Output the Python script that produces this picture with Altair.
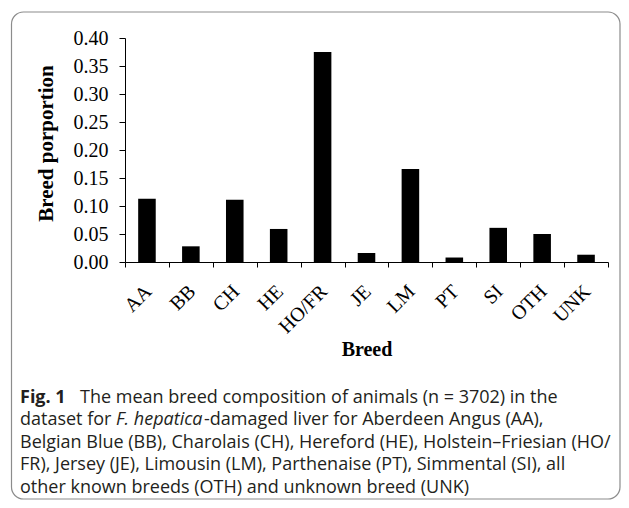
import altair as alt
import pandas as pd

breeds = ["AA", "BB", "CH", "HE", "HO/FR", "JE", "LM", "PT", "SI", "OTH", "UNK"]
proportions = [0.113, 0.028, 0.111, 0.059, 0.375, 0.016, 0.166, 0.008, 0.061, 0.050, 0.013]
y_ticks = [0.0, 0.05, 0.10, 0.15, 0.20, 0.25, 0.30, 0.35, 0.40]

caption_lines = [
    [("Fig. 1", "bold", "normal", 0), ("The mean breed composition of animals (n = 3702) in the", "normal", "normal", 60)],
    [("dataset for ", "normal", "normal", 0), ("F. hepatica", "normal", "italic", 96), ("-damaged liver for Aberdeen Angus (AA),", "normal", "normal", 184)],
    [("Belgian Blue (BB), Charolais (CH), Hereford (HE), Holstein\u2013Friesian (HO/", "normal", "normal", 0)],
    [("FR), Jersey (JE), Limousin (LM), Parthenaise (PT), Simmental (SI), all", "normal", "normal", 0)],
    [("other known breeds (OTH) and unknown breed (UNK)", "normal", "normal", 0)],
]
line_y = [398, 420, 443, 465, 488]

df = pd.DataFrame({"breed": breeds, "value": proportions})

W, H = 483, 224
PL, PT = 117, 30
TOTAL_W, TOTAL_H = 613, 492

serif = "Liberation Serif"
sans = "Open Sans"

bars = alt.Chart(df).mark_bar(color="black", width=alt.RelativeBandSize(0.4)).encode(
    x=alt.X("breed:N", sort=breeds,
            scale=alt.Scale(paddingInner=0, paddingOuter=0),
            axis=alt.Axis(title="Breed", labelAngle=315, labelAlign="right", labelBaseline="middle",
                          labelFont=serif, labelFontSize=20, labelColor="black", labelPadding=21,
                          labelOffset=1,
                          tickBand="extent", tickColor="black", tickSize=5, domainColor="black",
                          titleFont=serif, titleFontSize=20, titleFontWeight="bold", titleColor="black",
                          titleY=87, titleBaseline="middle", grid=False)),
    y=alt.Y("value:Q", scale=alt.Scale(domain=[0, 0.4], nice=False),
            axis=alt.Axis(title="Breed porportion", values=y_ticks, format=".2f",
                          labelFont=serif, labelFontSize=20, labelColor="black", labelPadding=11,
                          tickColor="black", tickSize=6, domainColor="black",
                          titleFont=serif, titleFontSize=21, titleFontWeight="bold", titleColor="black",
                          titleX=-79, titleY=105, titleAngle=270, titleAlign="center",
                          titleBaseline="middle", grid=False)),
)

frame = alt.Chart(pd.DataFrame({"a": [0]})).mark_rect(
    fill=None, stroke="#8c8c8c", strokeWidth=1.2, cornerRadius=12
).encode(
    x=alt.value(-PL + 3.5), x2=alt.value(TOTAL_W - PL - 1),
    y=alt.value(-PT + 4), y2=alt.value(TOTAL_H - PT - 1),
)

layers = [frame, bars]
for i, segs in enumerate(caption_lines):
    for text, weight, style, dx in segs:
        t = alt.Chart(pd.DataFrame({"t": [text]})).mark_text(
            align="left", baseline="middle", font=sans, fontSize=18,
            fontWeight=weight, fontStyle=style, color="#231f20",
        ).encode(
            x=alt.value(20 - 8 - PL + dx), y=alt.value(line_y[i] - 8 - PT), text="t:N"
        )
        layers.append(t)

chart = alt.layer(*layers).properties(
    width=W, height=H,
    autosize=alt.AutoSizeParams(type="none"),
    padding={"left": PL, "top": PT, "right": TOTAL_W - PL - W, "bottom": TOTAL_H - PT - H},
).configure_view(stroke=None)

chart.save("out.html", embed_options={"renderer": "svg", "actions": False})
